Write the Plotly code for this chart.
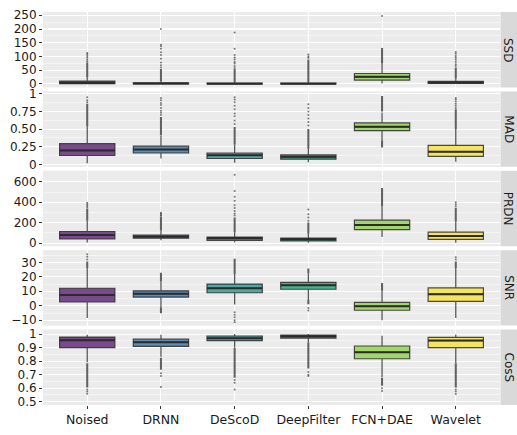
import plotly.graph_objects as go

# ---------------- data ----------------
METHODS = ["Noised", "DRNN", "DeScoD", "DeepFilter", "FCN+DAE", "Wavelet"]
COLORS = ["#7A4B8C", "#5C8DB5", "#4FA8A3", "#46B68A", "#A0D66A", "#F6E45E"]
METRICS = ["SSD", "MAD", "PRDN", "SNR", "CosS"]

# SSD
SSD_Q1 = [1, 0.5, 0.3, 0.3, 14, 1.5]
SSD_MED = [4, 1.5, 1, 1, 26, 5]
SSD_Q3 = [10, 4, 3, 3, 38, 9]
SSD_LO = [0, 0, 0, 0, 2, 0]
SSD_HI = [23, 9, 7, 7, 74, 20]
SSD_RUNS = [[(23, 78)], [(9, 54)], [(7, 54)], [(7, 89)], [(74, 131)], [(20, 60)]]
SSD_OUT = [[82, 88, 95, 102, 108, 113],
           [60, 68, 78, 92, 105, 115, 128, 137, 143, 200],
           [58, 65, 74, 80, 89, 96, 105, 128, 187],
           [95, 100, 107],
           [247],
           [65, 72, 80, 88, 95, 102, 110, 116]]

# MAD
MAD_Q1 = [0.125, 0.161, 0.083, 0.073, 0.477, 0.114]
MAD_MED = [0.197, 0.21, 0.128, 0.106, 0.532, 0.179]
MAD_Q3 = [0.293, 0.257, 0.161, 0.133, 0.587, 0.27]
MAD_LO = [0.014, 0.083, 0.023, 0.03, 0.345, 0.035]
MAD_HI = [0.54, 0.40, 0.28, 0.22, 0.735, 0.50]
MAD_RUNS = [[(0.54, 0.86)], [(0.41, 0.67)], [(0.28, 0.53)], [(0.22, 0.50)],
            [(0.75, 0.97), (0.24, 0.34)], [(0.50, 0.78)]]
MAD_OUT = [[0.88, 0.91, 0.95],
           [0.70, 0.73, 0.76, 0.80, 0.84, 0.87, 0.91, 0.94],
           [0.57, 0.62, 0.68, 0.72, 0.78, 0.83, 0.88, 0.92, 0.95],
           [0.55, 0.60, 0.65, 0.70, 0.75, 0.80, 0.85],
           [],
           [0.80, 0.83, 0.86, 0.89, 0.92, 0.94]]

# PRDN
PRDN_Q1 = [41, 48, 28, 22, 133, 38]
PRDN_MED = [79, 63, 47, 38, 177, 70]
PRDN_Q3 = [114, 79, 60, 50, 225, 108]
PRDN_LO = [6, 28, 10, 3, 60, 3]
PRDN_HI = [219, 125, 108, 92, 363, 213]
PRDN_RUNS = [[(219, 339)], [(125, 257)], [(108, 250)], [(92, 203)], [(363, 540)], [(213, 346)]]
PRDN_OUT = [[350, 365, 380, 396],
            [265, 275, 287, 298],
            [270, 290, 314, 345, 371, 415, 453, 510, 670],
            [220, 250, 282, 330],
            [],
            [360, 380, 400]]

# SNR
SNR_Q1 = [2.7, 6.0, 9.0, 11.4, -3.1, 3.1]
SNR_MED = [7.4, 8.3, 12.1, 14.1, -0.4, 8.0]
SNR_Q3 = [12.1, 10.3, 15.0, 16.1, 2.3, 12.3]
SNR_LO = [-8.5, -1.0, 0.9, 4.4, -10, -8.5]
SNR_HI = [26, 16.7, 22, 22.5, 10.4, 26]
SNR_RUNS = [[(26, 30.6)], [(16.7, 22.8), (-5.1, -1.0)], [(22, 32.4)],
            [(22.5, 25.7), (1.1, 4.3)], [(10.4, 15.7)], [(26, 30.6)]]
SNR_OUT = [[32, 33.8, 35.5],
           [],
           [-4.4, -6.2, -8, -10, -11.3],
           [-1.5, -3.3],
           [],
           [32, 33.5]]

# CosS
COSS_Q1 = [0.90, 0.909, 0.952, 0.971, 0.818, 0.90]
COSS_MED = [0.955, 0.94, 0.969, 0.983, 0.866, 0.952]
COSS_Q3 = [0.978, 0.964, 0.986, 0.993, 0.912, 0.976]
COSS_LO = [0.792, 0.833, 0.901, 0.938, 0.682, 0.786]
COSS_HI = [0.995, 0.995, 1.0, 1.0, 0.988, 0.998]
COSS_RUNS = [[(0.605, 0.785)], [(0.737, 0.826)], [(0.677, 0.90)], [(0.745, 0.938)],
             [(0.618, 0.677)], [(0.605, 0.785)]]
COSS_OUT = [[0.59, 0.575, 0.56],
            [0.71, 0.69, 0.61],
            [0.66, 0.64, 0.59],
            [0.72, 0.70, 0.69],
            [0.60, 0.58],
            [0.59, 0.575, 0.557]]

STATS = {
    "SSD": (SSD_Q1, SSD_MED, SSD_Q3, SSD_LO, SSD_HI, SSD_RUNS, SSD_OUT),
    "MAD": (MAD_Q1, MAD_MED, MAD_Q3, MAD_LO, MAD_HI, MAD_RUNS, MAD_OUT),
    "PRDN": (PRDN_Q1, PRDN_MED, PRDN_Q3, PRDN_LO, PRDN_HI, PRDN_RUNS, PRDN_OUT),
    "SNR": (SNR_Q1, SNR_MED, SNR_Q3, SNR_LO, SNR_HI, SNR_RUNS, SNR_OUT),
    "CosS": (COSS_Q1, COSS_MED, COSS_Q3, COSS_LO, COSS_HI, COSS_RUNS, COSS_OUT),
}

Y_RANGES = {"SSD": [-13, 262], "MAD": [-0.036, 1.034], "PRDN": [-30, 708],
            "SNR": [-13.7, 38.4], "CosS": [0.476, 1.034]}
Y_TICKS = {"SSD": [0, 50, 100, 150, 200, 250],
           "MAD": [0, 0.25, 0.5, 0.75, 1],
           "PRDN": [0, 200, 400, 600],
           "SNR": [-10, 0, 10, 20, 30],
           "CosS": [0.5, 0.6, 0.7, 0.8, 0.9, 1]}
Y_TICKTEXT = {"SSD": ["0", "50", "100", "150", "200", "250"],
              "MAD": ["0", "0.25", "0.50", "0.75", "1"],
              "PRDN": ["0", "200", "400", "600"],
              "SNR": ["\u221210", "0", "10", "20", "30"],
              "CosS": ["0.5", "0.6", "0.7", "0.8", "0.9", "1"]}
Y_MINOR = {"SSD": [25, 75, 125, 175, 225],
           "MAD": [0.125, 0.375, 0.625, 0.875],
           "PRDN": [100, 300, 500, 700],
           "SNR": [-5, 5, 15, 25, 35],
           "CosS": [0.55, 0.65, 0.75, 0.85, 0.95]}

# ---------------- figure ----------------
W, H = 517, 435
ML, MR, MT, MB = 43, 17, 8, 22
PW = W - ML - MR
PH = H - MT - MB
GAP = 4
PANEL_H = (PH - GAP * 4) / 5
BOX_W = 0.75
LINE = "rgba(45,45,45,0.85)"
PT = "rgba(30,30,30,0.7)"
FONT = "DejaVu Sans"

fig = go.Figure()
layout_axes = {}
shapes = []
annotations = []

for r, metric in enumerate(METRICS):
    sfx = "" if r == 0 else str(r + 1)
    xa, ya = "x" + sfx, "y" + sfx
    q1, med, q3, lo, hi, runs, outs = STATS[metric]
    for i, m in enumerate(METHODS):
        fig.add_trace(go.Box(
            x=[i], q1=[q1[i]], median=[med[i]], q3=[q3[i]],
            lowerfence=[lo[i]], upperfence=[hi[i]], width=BOX_W,
            fillcolor=COLORS[i], line=dict(color=LINE, width=1.2),
            whiskerwidth=0, boxpoints=False, xaxis=xa, yaxis=ya,
            showlegend=False, hoverinfo="skip", name=m))
    # dense outlier runs
    rx, ry = [], []
    for i, rl in enumerate(runs):
        for a, b in rl:
            rx += [i, i, None]
            ry += [a, b, None]
    fig.add_trace(go.Scatter(x=rx, y=ry, mode="lines", xaxis=xa, yaxis=ya,
                             line=dict(color=PT, width=2), showlegend=False,
                             hoverinfo="skip"))
    # sparse outliers
    ox, oy = [], []
    for i, pts in enumerate(outs):
        ox += [i] * len(pts)
        oy += pts
    fig.add_trace(go.Scatter(x=ox, y=oy, mode="markers", xaxis=xa, yaxis=ya,
                             marker=dict(size=2, color="rgba(30,30,30,0.6)"),
                             showlegend=False, hoverinfo="skip"))
    # thicker medians
    mx, my = [], []
    for i in range(len(METHODS)):
        mx += [i - BOX_W / 2, i + BOX_W / 2, None]
        my += [med[i], med[i], None]
    fig.add_trace(go.Scatter(x=mx, y=my, mode="lines", xaxis=xa, yaxis=ya,
                             line=dict(color="#2b2b2b", width=2), showlegend=False,
                             hoverinfo="skip"))

    top_px = MT + r * (PANEL_H + GAP)
    bot_px = top_px + PANEL_H
    dom = [(H - MB - bot_px) / PH, (H - MB - top_px) / PH]
    last = r == len(METRICS) - 1
    layout_axes["xaxis" + sfx] = dict(
        domain=[0, 1], range=[-0.6, 5.6], anchor=ya,
        tickmode="array", tickvals=list(range(len(METHODS))),
        ticktext=METHODS, showticklabels=last,
        ticks="outside" if last else "", ticklen=3, tickcolor="#333", tickwidth=1,
        showgrid=True, gridcolor="white", gridwidth=1.1, zeroline=False,
        showline=False, tickfont=dict(family=FONT, size=12.5, color="#1a1a1a"),
        fixedrange=True)
    layout_axes["yaxis" + sfx] = dict(
        domain=dom, range=Y_RANGES[metric], anchor=xa,
        tickmode="array", tickvals=Y_TICKS[metric], ticktext=Y_TICKTEXT[metric],
        ticks="outside", ticklen=3, tickcolor="#333", tickwidth=1,
        showgrid=True, gridcolor="white", gridwidth=1.1, zeroline=False,
        showline=False, tickfont=dict(family=FONT, size=12, color="#1a1a1a"),
        minor=dict(tickmode="array", tickvals=Y_MINOR[metric], showgrid=True,
                   gridcolor="white", gridwidth=0.5, ticks=""),
        fixedrange=True)
    # strip
    sx0 = (PW + 0.5) / PW
    sx1 = (W - ML) / PW
    shapes.append(dict(type="rect", xref="paper", yref="paper",
                       x0=sx0, x1=sx1, y0=dom[0], y1=dom[1], fillcolor="#D9D9D9",
                       line=dict(width=0), layer="above"))
    annotations.append(dict(text=metric, xref="paper", yref="paper",
                            x=(sx0 + sx1) / 2, y=(dom[0] + dom[1]) / 2,
                            showarrow=False, textangle=90,
                            xanchor="center", yanchor="middle",
                            font=dict(family=FONT, size=12, color="#1a1a1a")))

fig.update_layout(
    width=W, height=H,
    margin=dict(l=ML, r=MR, t=MT, b=MB, pad=0),
    paper_bgcolor="white", plot_bgcolor="#EBEBEB",
    boxmode="overlay", showlegend=False, hovermode=False,
    shapes=shapes, annotations=annotations,
    font=dict(family=FONT, color="#1a1a1a"),
    **layout_axes)

fig.write_html(
    "out.html",
    config={"displayModeBar": False, "staticPlot": True},
    post_script="document.body.style.margin='0';document.body.style.overflow='hidden';")
